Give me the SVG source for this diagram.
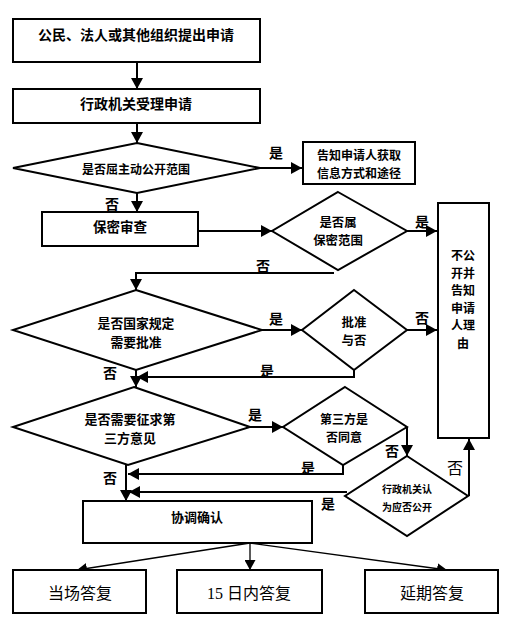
<svg xmlns="http://www.w3.org/2000/svg" width="505" height="618" viewBox="0 0 505 618">
<style>
.n{fill:#fff;stroke:#000;stroke-width:2}
.t{font-family:"Noto Sans CJK SC","Noto Sans CJK TC",sans-serif;font-weight:bold;font-size:13px;fill:#000;text-anchor:middle;dominant-baseline:central}
.r{font-family:"Liberation Serif","Noto Sans CJK SC",serif;font-weight:normal;font-size:16px;fill:#000;text-anchor:middle;dominant-baseline:central}
.c{fill:none;stroke:#000;stroke-width:2}
.thin{fill:none;stroke:#000;stroke-width:1.3}
.lb{font-family:"Noto Sans CJK SC",sans-serif;font-weight:bold;font-size:14px;fill:#000;text-anchor:middle;dominant-baseline:central}
</style>
<defs>
<marker id="a" markerUnits="userSpaceOnUse" markerWidth="12" markerHeight="12" viewBox="0 0 12 12" refX="11" refY="6" orient="auto">
<path d="M0,0 L11,6 L0,12 Z" fill="#000"/>
</marker>
<marker id="s" markerUnits="userSpaceOnUse" markerWidth="10" markerHeight="11" viewBox="0 0 10 11" refX="10" refY="5.5" orient="auto">
<path d="M0,0 L10,5.5 L0,11 Z" fill="#000"/>
</marker>
</defs>
<rect width="505" height="618" fill="#fff"/>

<g id="connectors">
<path class="c" d="M137,62 V89" marker-end="url(#a)"/>
<path class="c" d="M137,123 V143" marker-end="url(#a)"/>
<path class="c" d="M260,168 H302" marker-end="url(#a)"/>
<path class="c" d="M137,193 V212" marker-end="url(#a)"/>
<path class="c" d="M198,231 H272" marker-end="url(#a)"/>
<path class="c" d="M407,231 H437" marker-end="url(#a)"/>
<path class="c" d="M334,273 H136 V290" marker-end="url(#a)"/>
<path class="c" d="M262,330 H302" marker-end="url(#a)"/>
<path class="c" d="M407,330 H437" marker-end="url(#a)"/>
<path class="c" d="M354,370 V377 H137" marker-end="url(#a)"/>
<path class="c" d="M136,370 V387" marker-end="url(#a)"/>
<path class="c" d="M250,427 H283" marker-end="url(#a)"/>
<path class="c" d="M407,427 V456" marker-end="url(#a)"/>
<path class="c" d="M343,465 V474 H128" marker-end="url(#a)"/>
<path class="c" d="M126,465 V501" marker-end="url(#a)"/>
<path class="c" d="M347,492 H129" marker-end="url(#a)"/>
<path class="c" d="M469,496 V439" marker-end="url(#a)"/>
<path class="thin" d="M250,543 L77,570" marker-end="url(#s)"/>
<path class="thin" d="M250,543 V570" marker-end="url(#s)"/>
<path class="thin" d="M250,543 L447,570" marker-end="url(#s)"/>
<text class="lb" x="276" y="152">是</text>
<text class="lb" x="112" y="203">否</text>
<text class="lb" x="422" y="221">是</text>
<text class="lb" x="263" y="265">否</text>
<text class="lb" x="276" y="318">是</text>
<text class="lb" x="422" y="317">否</text>
<text class="lb" x="267" y="370">是</text>
<text class="lb" x="110" y="372">否</text>
<text class="lb" x="255" y="414">是</text>
<text class="lb" x="392" y="450">否</text>
<text class="lb" x="308" y="467">是</text>
<text class="lb" x="110" y="477">否</text>
<text class="lb" x="328" y="503">是</text>
<text class="lb" x="455" y="467" style="font-weight:normal;font-size:16px">否</text>
</g>

<g id="n1"><rect class="n" x="13" y="19" width="247" height="43"/><text class="t" x="136" y="34" style="font-size:14px">公民、法人或其他组织提出申请</text></g>
<g id="n2"><rect class="n" x="13" y="89" width="247" height="34"/><text class="t" x="136" y="103" style="font-size:14px">行政机关受理申请</text></g>
<g id="d1"><polygon class="n" points="137,143 260,168 137,193 13,168"/><text class="t" x="136" y="168" style="font-size:12px">是否屈主动公开范围</text></g>
<g id="n3"><rect class="n" x="303" y="142" width="112" height="42"/><text class="t" x="359" y="154" style="font-size:12px">告知申请人获取<tspan x="359" dy="17.6">信息方式和途径</tspan></text></g>
<g id="n4"><rect class="n" x="42" y="212" width="156" height="34"/><text class="t" x="120" y="226" style="font-size:13.5px">保密审查</text></g>
<g id="d2"><polygon class="n" points="338,192 407,231 338,270 272,231"/><text class="t" x="338" y="222" style="font-size:12.4px">是否属<tspan x="338" dy="18.2">保密范围</tspan></text></g>
<g id="n5"><rect class="n" x="438" y="203" width="51" height="235"/>
<text class="t" x="463" y="254" style="font-size:12px">不公<tspan x="463" dy="17.6">开并</tspan><tspan x="463" dy="17.6">告知</tspan><tspan x="463" dy="17.6">申请</tspan><tspan x="463" dy="17.6">人理</tspan><tspan x="463" dy="17.6">由</tspan></text></g>
<g id="d3"><polygon class="n" points="136,290 262,330 136,370 13,330"/><text class="t" x="136" y="322" style="font-size:12.8px">是否国家规定<tspan x="136" dy="18.8">需要批准</tspan></text></g>
<g id="d4"><polygon class="n" points="354,290 407,330 354,370 302,330"/><text class="t" x="354" y="322" style="font-size:12.4px">批准<tspan x="354" dy="18.2">与否</tspan></text></g>
<g id="d5"><polygon class="n" points="134,387 250,427 128,465 13,427"/><text class="t" x="130" y="418" style="font-size:13px">是否需要征求第<tspan x="130" dy="19.2">三方意见</tspan></text></g>
<g id="d6"><polygon class="n" points="345,387 407,427 343,465 283,427"/><text class="t" x="344" y="418" style="font-size:12px">第三方是<tspan x="344" dy="17.6">否同意</tspan></text></g>
<g id="d7"><polygon class="n" points="407,456 468,496 407,536 345,496"/><text class="t" x="407" y="488" style="font-size:10px">行政机关认<tspan x="407" dy="18">为应否公开</tspan></text></g>
<g id="n6"><rect class="n" x="83" y="501" width="229" height="42"/><text class="t" x="197" y="516">协调确认</text></g>
<g id="n7"><rect class="n" x="13" y="570" width="133" height="43"/><text class="r" x="80" y="593">当场答复</text></g>
<g id="n8"><rect class="n" x="177" y="570" width="145" height="43"/><text class="r" x="249" y="593">15 日内答复</text></g>
<g id="n9"><rect class="n" x="365" y="570" width="133" height="43"/><text class="r" x="432" y="593">延期答复</text></g>
</svg>
